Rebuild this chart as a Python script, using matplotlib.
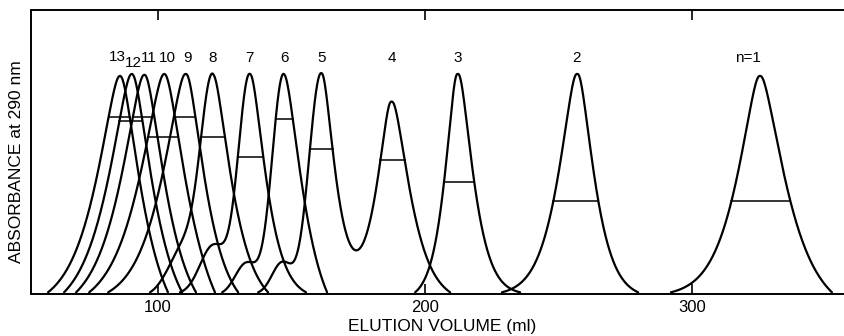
import numpy as np
import matplotlib
matplotlib.use("Agg")
import matplotlib.pyplot as plt

plt.rcParams['font.family'] = ['Liberation Sans', 'DejaVu Sans']

# ---- data (elution volume in ml, absorbance in axis units) ----
peak_labels = ["13", "12", "11", "10", "9", "8", "7", "6", "5", "4", "3", "2", "n=1"]
label_x = [84.8, 90.6, 96.5, 103.4, 110.9, 120.6, 134.1, 147.2, 161.4, 187.6, 212.4, 256.9, 321.0]
label_y = [0.835, 0.812, 0.831, 0.831, 0.831, 0.831, 0.831, 0.831, 0.831, 0.831, 0.831, 0.831, 0.831]

peak_center = [85.8, 90.2, 94.9, 102.4, 110.4, 120.6, 134.3, 147.0, 161.05, 187.5, 212.25, 257.0, 325.5]
peak_height = [0.768, 0.775, 0.772, 0.775, 0.775, 0.738, 0.772, 0.775, 0.775, 0.676, 0.775, 0.775, 0.768]
left_width = [11.4, 11.4, 11.4, 12.1, 11.4, 6.4, 6.1, 6.1, 6.4, 6.8, 5.6, 8.8, 10.9]
right_width = [9.6, 9.6, 9.6, 10.7, 8.8, 8.8, 7.3, 8.5, 6.2, 8.5, 6.9, 7.7, 12.2]
left_shape = [1.3, 1.3, 1.3, 1.3, 1.3, 2.0, 2.0, 2.0, 2.0, 1.3, 1.3, 1.3, 1.3]
right_shape = [1.3] * 13
top_rounding = 1.2

shoulder_center = [np.nan] * 5 + [110.1, 120.6, 133.0, 146.4] + [np.nan] * 4
shoulder_height = [0.0] * 5 + [0.17, 0.17, 0.11, 0.11] + [0.0] * 4
shoulder_width = [1.0] * 5 + [6.0, 4.9, 4.1, 3.75] + [1.0] * 4

# each trace: the peaks it carries, its start and end volume
trace_peaks = [[0], [1], [2], [3], [4], [5], [6], [7], [8, 9], [10], [11], [12]]
trace_start = [58.8, 64.8, 69.3, 74.2, 81.3, 97.0, 108.2, 124.0, 137.5, 196.3, 228.8, 292.1]
trace_end = [103.7, 109.0, 114.2, 121.3, 130.0, 141.2, 155.4, 163.3, 209.4, 235.6, 279.8, 352.4]

marker_level = [0.623, 0.609, 0.623, 0.553, 0.623, 0.553, 0.482, 0.616, 0.511, 0.472, 0.394, 0.327, 0.327]

x_ticks = [100, 200, 300]


def component(x, i):
    dx = x - peak_center[i]
    s = np.where(dx < 0, left_width[i], right_width[i])
    p = np.where(dx < 0, left_shape[i], right_shape[i])
    rounded = np.sqrt(dx ** 2 + top_rounding ** 2) - top_rounding
    u = np.where(p < 1.9, rounded, np.abs(dx))
    y = peak_height[i] * np.exp(-(u / s) ** p)
    if shoulder_height[i] > 0:
        y = y + shoulder_height[i] * np.exp(-0.5 * ((x - shoulder_center[i]) / shoulder_width[i]) ** 2)
    return y


def trace_values(x, members):
    return sum(component(x, i) for i in members)


fig = plt.figure(figsize=(8.45, 3.36), dpi=100)
ax = fig.add_axes([31 / 845, 42 / 336, 1 - 31 / 845, 284 / 336])
ax.set_xlim(52.4, 357.3)
ax.set_ylim(0, 1)

for members, xs, xe in zip(trace_peaks, trace_start, trace_end):
    x = np.linspace(xs, xe, 2000)
    y = trace_values(x, members)
    c0 = peak_center[members[0]]
    c1 = peak_center[members[-1]]
    y0 = trace_values(np.array([xs]), members)[0] - 0.006
    y1 = trace_values(np.array([xe]), members)[0] - 0.006
    ramp = np.where(x < c0, y0 * (c0 - x) / (c0 - xs), 0.0) + \
        np.where(x > c1, y1 * (x - c1) / (xe - c1), 0.0)
    y = y - ramp
    ax.plot(x, y, color='black', lw=1.6, solid_capstyle='round')
    for i in members:
        ic = np.argmin(np.abs(x - peak_center[i]))
        lvl = marker_level[i]
        j = ic
        while j > 0 and y[j] > lvl:
            j -= 1
        k = ic
        while k < len(x) - 1 and y[k] > lvl:
            k += 1
        ax.plot([x[j], x[k]], [lvl, lvl], color='black', lw=1.1)

for lab, lx, ly in zip(peak_labels, label_x, label_y):
    ax.text(lx, ly, lab, ha='center', va='center', fontsize=11,
            family=['Liberation Sans Narrow', 'Liberation Sans', 'DejaVu Sans'])

ax.spines['right'].set_visible(False)
for sp in ['left', 'top', 'bottom']:
    ax.spines[sp].set_linewidth(1.4)
ax.set_xticks(x_ticks)
ax.set_xticklabels([str(t) for t in x_ticks], fontsize=12,
                   family=['Liberation Sans Narrow', 'Liberation Sans', 'DejaVu Sans'])
ax.set_yticks([])
ax.tick_params(axis='x', direction='in', length=7, width=1.2, top=True, bottom=True, pad=4)

fig.text(442 / 845, 1 - 327 / 336, "ELUTION VOLUME (ml)", ha='center', va='center', fontsize=12.5)
fig.text(17 / 845, 1 - 162 / 336, "ABSORBANCE at 290 nm", ha='center', va='center',
         rotation=90, fontsize=12.5)

fig.savefig("out.png", dpi=100)
